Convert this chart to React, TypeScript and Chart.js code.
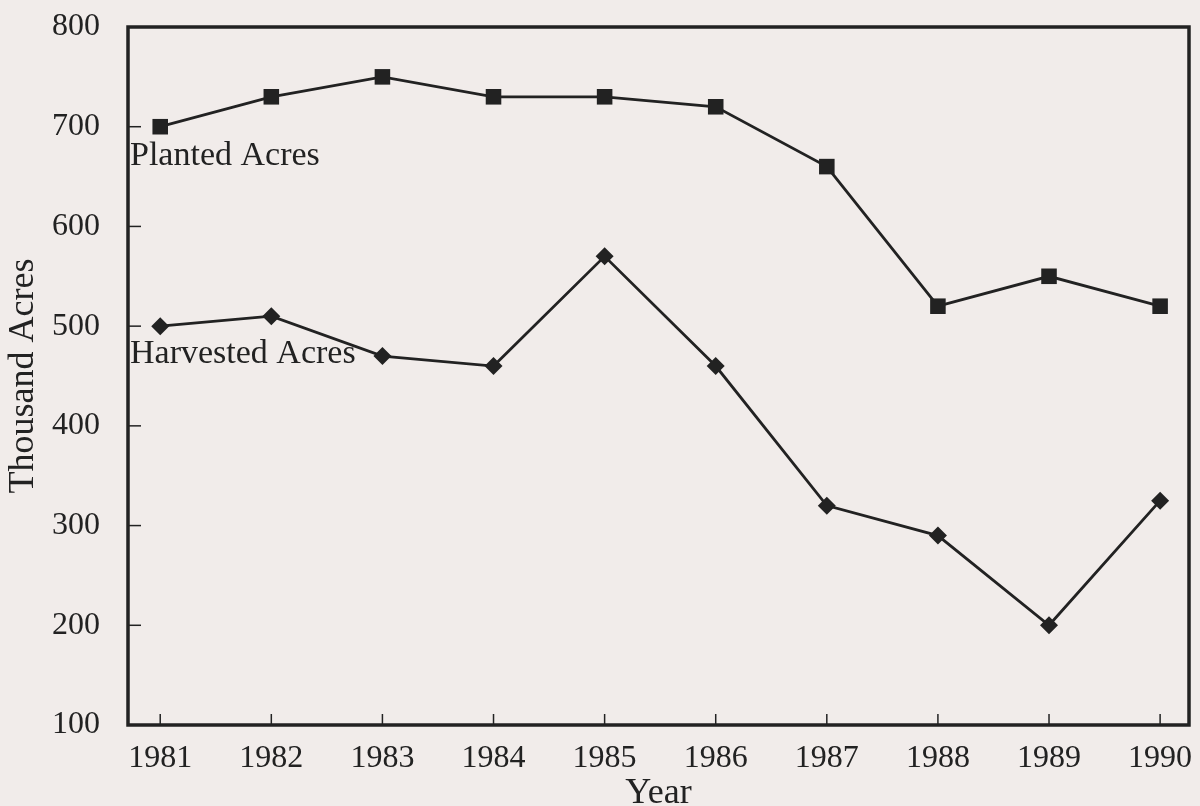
import React, { useEffect, useRef } from "react";
import { Chart, registerables } from "chart.js";

Chart.register(...registerables);

const years = [1981, 1982, 1983, 1984, 1985, 1986, 1987, 1988, 1989, 1990];
const plantedAcres = [700, 730, 750, 730, 730, 720, 660, 520, 550, 520];
const harvestedAcres = [500, 510, 470, 460, 570, 460, 320, 290, 200, 325];
const yTicks = [100, 200, 300, 400, 500, 600, 700, 800];
const seriesLabels = ["Planted Acres", "Harvested Acres"];

const INK = "#222222";
const BG = "#f1ecea";
const FONT = "'Liberation Serif', 'Times New Roman', serif";

const framePlugin = {
  id: "frameAndLabels",
  afterDatasetsDraw(chart: any) {
    const { ctx, chartArea, scales } = chart;
    const { left, right, top, bottom } = chartArea;
    ctx.save();
    ctx.strokeStyle = INK;
    ctx.lineWidth = 3.5;
    ctx.strokeRect(left, top, right - left, bottom - top);
    ctx.lineWidth = 1.5;
    yTicks.forEach((v) => {
      if (v === 100 || v === 800) return;
      const y = scales.y.getPixelForValue(v);
      ctx.beginPath();
      ctx.moveTo(left, y);
      ctx.lineTo(left + 13, y);
      ctx.stroke();
    });
    years.forEach((v) => {
      const x = scales.x.getPixelForValue(v);
      ctx.beginPath();
      ctx.moveTo(x, bottom);
      ctx.lineTo(x, bottom - 11);
      ctx.stroke();
    });
    ctx.fillStyle = INK;
    ctx.font = `34px ${FONT}`;
    ctx.textBaseline = "alphabetic";
    ctx.textAlign = "left";
    ctx.fillText(seriesLabels[0], left + 2, top + 138);
    ctx.fillText(seriesLabels[1], left + 2, top + 336);
    ctx.restore();
  },
};

export default function App() {
  const ref = useRef<HTMLCanvasElement | null>(null);
  useEffect(() => {
    if (!ref.current) return;
    const chart = new Chart(ref.current, {
      type: "line",
      data: {
        datasets: [
          {
            label: seriesLabels[0],
            data: years.map((y, i) => ({ x: y, y: plantedAcres[i] })),
            borderColor: INK,
            backgroundColor: INK,
            borderWidth: 2.8,
            pointStyle: "rect",
            pointRadius: 11,
            pointBorderWidth: 0,
            tension: 0,
          },
          {
            label: seriesLabels[1],
            data: years.map((y, i) => ({ x: y, y: harvestedAcres[i] })),
            borderColor: INK,
            backgroundColor: INK,
            borderWidth: 2.8,
            pointStyle: "rectRot",
            pointRadius: 9,
            pointBorderWidth: 0,
            tension: 0,
          },
        ],
      },
      options: {
        animation: false,
        responsive: false,
        maintainAspectRatio: false,
        layout: { padding: { top: 27, right: 8, left: 6, bottom: 0 } },
        plugins: { legend: { display: false }, tooltip: { enabled: false } },
        scales: {
          x: {
            type: "linear",
            min: 1980.71,
            max: 1990.26,
            afterBuildTicks: (axis: any) => {
              axis.ticks = years.map((v) => ({ value: v }));
            },
            afterFit: (scale: any) => {
              scale.height = 81;
              scale.paddingLeft = 0;
              scale.paddingRight = 0;
            },
            grid: { display: false, drawTicks: false },
            border: { display: false },
            ticks: {
              color: INK,
              font: { family: FONT, size: 32, lineHeight: 1.1 },
              padding: 16,
              maxRotation: 0,
              autoSkip: false,
              callback: (v: any) => String(v),
            },
            title: {
              display: true,
              text: "Year",
              color: INK,
              font: { family: FONT, size: 36, lineHeight: 0.667 },
              padding: { top: 0, bottom: 0 },
            },
          },
          y: {
            min: 100,
            max: 800,
            afterBuildTicks: (axis: any) => {
              axis.ticks = yTicks.map((v) => ({ value: v }));
            },
            afterFit: (scale: any) => {
              scale.width = 122;
              scale.paddingTop = 0;
              scale.paddingBottom = 0;
            },
            grid: { display: false, drawTicks: false },
            border: { display: false },
            ticks: {
              color: INK,
              font: { family: FONT, size: 32 },
              padding: 28,
              autoSkip: false,
            },
            title: {
              display: true,
              text: "Thousand Acres",
              color: INK,
              font: { family: FONT, size: 36, lineHeight: 1.0 },
              padding: { top: 0, bottom: 0 },
            },
          },
        },
      },
      plugins: [framePlugin],
    });
    return () => chart.destroy();
  }, []);
  return (
    <div
      style={{
        position: "fixed",
        left: 0,
        top: 0,
        width: 1200,
        height: 806,
        background: BG,
      }}
    >
      <canvas ref={ref} width={1200} height={806} style={{ width: 1200, height: 806 }} />
    </div>
  );
}
